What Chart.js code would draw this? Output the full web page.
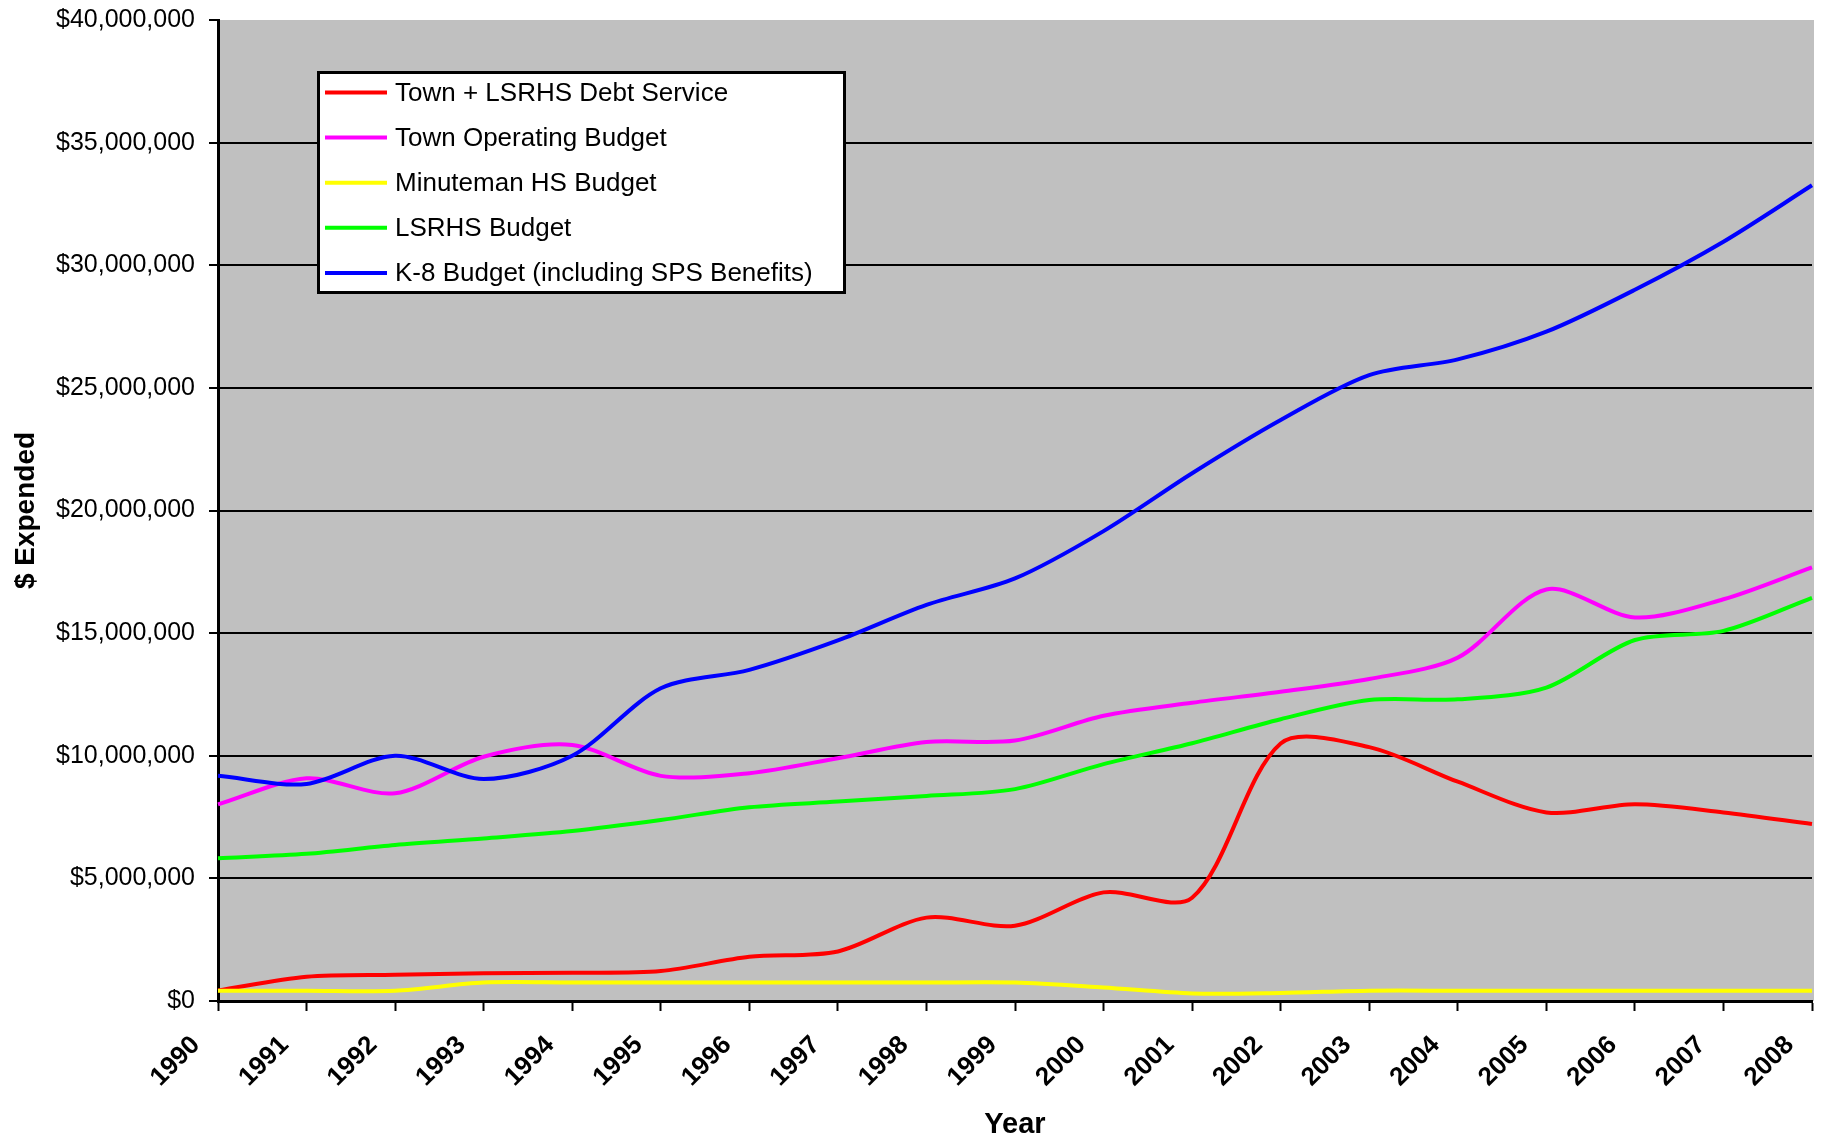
<!DOCTYPE html>
<html>
<head>
<meta charset="utf-8">
<script src="https://cdn.jsdelivr.net/npm/chart.js@4"></script>
<style>
html,body{margin:0;padding:0;background:#ffffff;}
#wrap{width:1824px;height:1139px;position:relative;}
</style>
</head>
<body>
<div id="wrap"><canvas id="c" width="1824" height="1139"></canvas></div>
<script>
// ---- data ($ millions) ----
const years = ['1990','1991','1992','1993','1994','1995','1996','1997','1998','1999','2000','2001','2002','2003','2004','2005','2006','2007','2008'];
const debtService   = [0.43, 0.99, 1.07, 1.13, 1.15, 1.22, 1.80, 2.02, 3.40, 3.07, 4.43, 4.21, 10.50, 10.35, 8.94, 7.69, 8.02, 7.69, 7.22];
const townOperating = [8.02, 9.08, 8.47, 9.96, 10.44, 9.18, 9.29, 9.90, 10.56, 10.62, 11.63, 12.16, 12.61, 13.13, 14.00, 16.78, 15.64, 16.38, 17.68];
const minuteman     = [0.42, 0.42, 0.42, 0.75, 0.75, 0.75, 0.75, 0.75, 0.75, 0.75, 0.55, 0.31, 0.33, 0.42, 0.42, 0.42, 0.42, 0.42, 0.42];
const lsrhs         = [5.82, 6.00, 6.36, 6.63, 6.93, 7.38, 7.90, 8.13, 8.36, 8.64, 9.66, 10.51, 11.49, 12.27, 12.30, 12.78, 14.72, 15.09, 16.44];
const k8            = [9.18, 8.85, 10.00, 9.05, 10.00, 12.75, 13.50, 14.70, 16.15, 17.23, 19.16, 21.52, 23.69, 25.52, 26.16, 27.29, 29.00, 30.96, 33.26];
const seriesNames = ['Town + LSRHS Debt Service','Town Operating Budget','Minuteman HS Budget','LSRHS Budget','K-8 Budget (including SPS Benefits)'];
const seriesColors = ['#FF0000','#FF00FF','#FFFF00','#00FF00','#0000FF'];
const yMin = 0, yMax = 40000000, yStep = 5000000;
const xTitle = 'Year';
const yTitle = '$ Expended';

const M = v => v * 1000000;
const seriesData = [debtService, townOperating, minuteman, lsrhs, k8];

const FONT = '"Liberation Sans", Arial, sans-serif';

const plotBg = {
  id: 'plotBg',
  beforeDraw(chart) {
    const a = chart.chartArea, ctx = chart.ctx;
    ctx.save();
    ctx.fillStyle = '#C0C0C0';
    ctx.fillRect(a.left, a.top, a.right - a.left + 2, a.bottom - a.top);
    ctx.restore();
  }
};

const boxLegend = {
  id: 'boxLegend',
  afterDatasetsDraw(chart) {
    const ctx = chart.ctx;
    ctx.save();
    const x0 = 317, y0 = 71, w = 529, h = 223;
    ctx.fillStyle = '#ffffff';
    ctx.fillRect(x0, y0, w, h);
    ctx.lineWidth = 3;
    ctx.strokeStyle = '#000000';
    ctx.strokeRect(x0 + 1.5, y0 + 1.5, w - 3, h - 3);
    ctx.font = '26px ' + FONT;
    ctx.textBaseline = 'middle';
    ctx.textAlign = 'left';
    chart.data.datasets.forEach((ds, i) => {
      const y = 92.5 + i * 45.1;
      ctx.strokeStyle = ds.borderColor;
      ctx.lineWidth = 4;
      ctx.beginPath();
      ctx.moveTo(325, y);
      ctx.lineTo(387, y);
      ctx.stroke();
      ctx.fillStyle = '#000000';
      ctx.fillText(ds.label, 395, y + 1);
    });
    ctx.restore();
  }
};

new Chart(document.getElementById('c'), {
  type: 'line',
  data: {
    labels: years,
    datasets: seriesData.map((arr, i) => ({
      label: seriesNames[i],
      data: arr.map(M),
      borderColor: seriesColors[i],
      backgroundColor: seriesColors[i],
      borderWidth: 4,
      pointRadius: 0,
      pointHoverRadius: 0,
      tension: 0.3,
      fill: false,
      order: 4 - i
    }))
  },
  options: {
    responsive: false,
    devicePixelRatio: 1,
    animation: false,
    layout: { padding: { left: 0, top: 20, right: 12, bottom: 0 } },
    plugins: {
      legend: { display: false },
      tooltip: { enabled: false },
      title: { display: false }
    },
    scales: {
      x: {
        type: 'category',
        offset: false,
        grid: {
          display: true,
          drawOnChartArea: false,
          drawTicks: true,
          tickLength: 10,
          tickWidth: 2,
          tickColor: '#000000',
          offset: false
        },
        border: { display: true, color: '#000000', width: 3 },
        ticks: {
          autoSkip: false,
          minRotation: 45,
          maxRotation: 45,
          padding: 19,
          labelOffset: -22,
          color: '#000000',
          font: { family: FONT, size: 26, weight: 'bold' }
        },
        title: {
          display: true,
          text: xTitle,
          color: '#000000',
          font: { family: FONT, size: 29, weight: 'bold', lineHeight: 1 },
          padding: { top: 0, bottom: 0 }
        },
        afterFit(scale) {
          scale.height = 138;
          scale.paddingLeft = 0;
          scale.paddingRight = 0;
        }
      },
      y: {
        type: 'linear',
        min: yMin,
        max: yMax,
        grid: {
          color: ctx => (ctx.tick && (ctx.tick.value === yMax || ctx.tick.value === yMin)) ? 'rgba(0,0,0,0)' : '#000000',
          lineWidth: 2,
          drawTicks: true,
          tickLength: 9,
          tickWidth: 2,
          tickColor: '#000000'
        },
        border: { display: true, color: '#000000', width: 3 },
        ticks: {
          stepSize: yStep,
          padding: 14,
          color: '#000000',
          font: { family: FONT, size: 25 },
          callback: v => '$' + Number(v).toLocaleString('en-US')
        },
        title: {
          display: true,
          text: yTitle,
          color: '#000000',
          font: { family: FONT, size: 28, weight: 'bold', lineHeight: 1.2 },
          padding: { top: 9, bottom: 0 }
        },
        afterFit(scale) {
          scale.width = 218;
          scale.paddingTop = 0;
          scale.paddingBottom = 0;
        }
      }
    }
  },
  plugins: [plotBg, boxLegend]
});
</script>
</body>
</html>
